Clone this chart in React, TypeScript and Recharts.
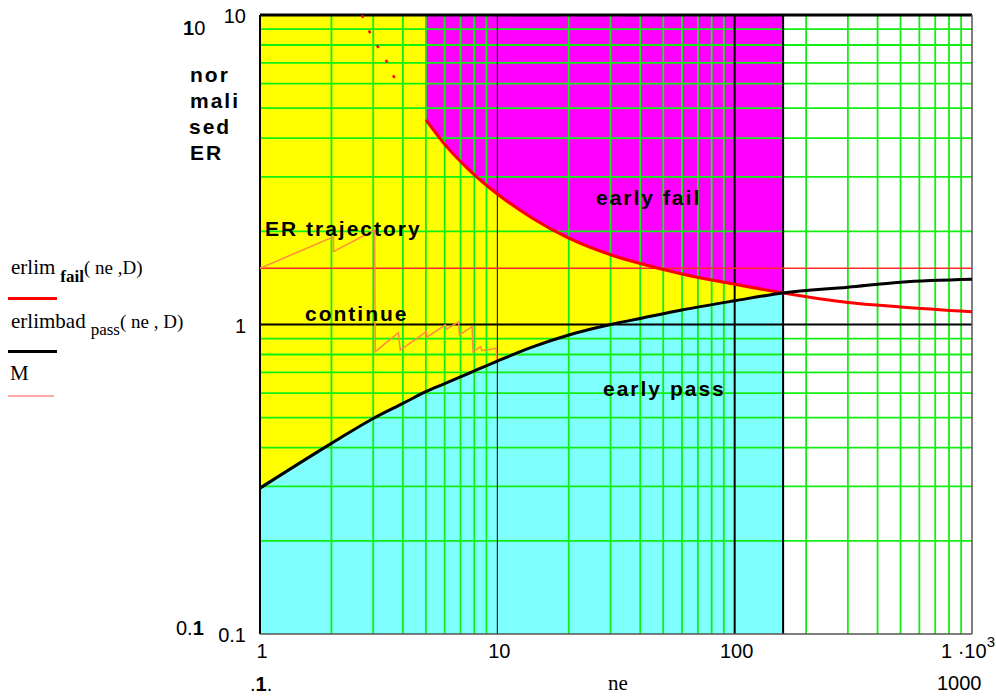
import {
  Area,
  ComposedChart,
  Line,
  ReferenceLine,
  XAxis,
  YAxis,
} from "recharts";

const W = 996;
const H = 696;

// ne where the shaded decision regions stop
const regionEnd = 160;

// erlimbad_pass(ne, D)
const passNe = [1, 2, 3, 4, 5, 6, 7.5, 10, 14, 20, 30, 40, 60, 100, 160, 300, 500, 1000];
const passVals = [0.296, 0.413, 0.497, 0.556, 0.607, 0.644, 0.693, 0.762, 0.845, 0.925, 1.0, 1.046, 1.114, 1.193, 1.265, 1.32, 1.37, 1.4];

// erlim_fail(ne, D)
const failNe = [5, 6, 7.5, 10, 14, 20, 30, 40, 60, 100, 160, 300, 500, 1000];
const failVals = [4.58, 3.82, 3.19, 2.64, 2.21, 1.9, 1.68, 1.574, 1.456, 1.349, 1.265, 1.178, 1.14, 1.1];

// bits of erlim_fail showing through for small ne
const failStrayNe = [2.69, 2.86, 3.0, 3.09, 3.43, 3.82];
const failStrayVals = [10, 9.01, 8.3, 8.05, 7.05, 5.9];

// M
const mNe = [1, 1000];
const mVals = [1.52, 1.52];

// ER trajectory
const trajNe = [1, 2.04, 2.04, 3.04, 3.06, 3.83, 3.9, 5.02, 5.05, 6.03, 6.09, 6.87, 6.92, 7.83, 7.9, 8.5, 8.6, 9.9, 9.95];
const trajVals = [1.52, 1.92, 1.72, 2.02, 0.817, 0.941, 0.827, 0.948, 0.91, 0.996, 0.965, 1.02, 0.925, 0.984, 0.817, 0.848, 0.823, 0.838, 0.77];

const xTicks = [1, 10, 100, 1000];
const yTicks = [0.1, 1, 10];
const xGrid = [2, 3, 4, 5, 6, 7, 8, 9, 20, 30, 40, 50, 60, 70, 80, 90, 200, 300, 400, 500, 600, 700, 800, 900];
const yGrid = [0.2, 0.3, 0.4, 0.5, 0.6, 0.7, 0.8, 0.9, 2, 3, 4, 5, 6, 7, 8, 9];

const yMin = 0.1;
const yMax = 10;

const toRows = (xs: number[], ys: number[]) => xs.map((ne, i) => ({ ne, y: ys[i] }));

const failAt = (ne: number) => {
  const i = failNe.indexOf(ne);
  return i >= 0 ? failVals[i] : null;
};

// continue / early fail / early pass bands
const regionRows = passNe
  .map((ne, i) => ({ ne, pass: passVals[i] }))
  .filter((r) => r.ne <= regionEnd)
  .map(({ ne, pass }) => {
    const fail = failAt(ne);
    return {
      ne,
      pass: [yMin, pass],
      // continue region before erlim_fail starts
      cont: ne <= failNe[0] ? [pass, yMax] : null,
      // continue region between the two limits
      band: fail == null ? null : [pass, fail],
      fail: fail == null ? null : [fail, yMax],
    };
  });

const tickFont = "'Liberation Sans', Arial, sans-serif";
const serif = "'Liberation Serif', 'Times New Roman', serif";
const gridGreen = "#10f010";

const XTick = ({ x, y, payload }: any) => {
  if (payload.value === 1000) {
    return (
      <text x={x - 4} y={y + 24} textAnchor="middle" fontFamily={tickFont} fontSize={20} fill="#000">
        1 ·10
        <tspan dy={-11} fontSize={15}>3</tspan>
      </text>
    );
  }
  return (
    <text x={x + 2} y={y + 24} textAnchor="middle" fontFamily={tickFont} fontSize={20} fill="#000">
      {payload.value}
    </text>
  );
};

const YTick = ({ x, y, payload }: any) => (
  <text x={x - 14} y={y + 8} textAnchor="end" fontFamily={tickFont} fontSize={20} fill="#000">
    {payload.value}
  </text>
);

const labelStyle = {
  fontFamily: tickFont,
  fontWeight: 700,
  fontSize: 21,
  letterSpacing: 2,
};

const App = () => {
  return (
    <div style={{ position: "absolute", left: 0, top: 0, width: W, height: H, background: "#fff" }}>
      <ComposedChart
        width={W}
        height={H}
        data={regionRows}
        margin={{ top: 15, right: 24, bottom: 32, left: 0 }}
      >
        <XAxis
          dataKey="ne"
          type="number"
          scale="log"
          domain={[1, 1000]}
          ticks={xTicks}
          allowDataOverflow
          height={30}
          axisLine={false}
          tickLine={false}
          tickSize={0}
          tickMargin={0}
          tick={<XTick />}
        />
        <YAxis
          type="number"
          scale="log"
          domain={[yMin, yMax]}
          ticks={yTicks}
          allowDataOverflow
          width={260}
          axisLine={false}
          tickLine={false}
          tickSize={0}
          tickMargin={0}
          tick={<YTick />}
        />

        <Area dataKey="pass" type="monotoneX" stroke="none" fill="#80ffff" fillOpacity={1} isAnimationActive={false} dot={false} activeDot={false} />
        <Area dataKey="cont" type="monotoneX" stroke="none" fill="#ffff00" fillOpacity={1} isAnimationActive={false} dot={false} activeDot={false} />
        <Area dataKey="band" type="monotoneX" stroke="none" fill="#ffff00" fillOpacity={1} isAnimationActive={false} dot={false} activeDot={false} />
        <Area dataKey="fail" type="monotoneX" stroke="none" fill="#ff00ff" fillOpacity={1} isAnimationActive={false} dot={false} activeDot={false} />

        {xGrid.map((v) => (
          <ReferenceLine key={`gx${v}`} x={v} stroke={gridGreen} strokeWidth={1.8} />
        ))}
        {yGrid.map((v) => (
          <ReferenceLine key={`gy${v}`} y={v} stroke={gridGreen} strokeWidth={1.8} />
        ))}

        <ReferenceLine x={10} stroke="#000" strokeWidth={1} />
        <ReferenceLine x={100} stroke="#000" strokeWidth={2} />
        <ReferenceLine x={regionEnd} stroke="#000" strokeWidth={2} />
        <ReferenceLine y={1} stroke="#000" strokeWidth={2} />
        <ReferenceLine x={1} stroke="#000" strokeWidth={2} />
        <ReferenceLine y={yMax} stroke="#000" strokeWidth={3} />
        <ReferenceLine x={1000} stroke="#555" strokeWidth={1.5} />
        <ReferenceLine y={yMin} stroke="#555" strokeWidth={1.5} />

        <Line data={toRows(mNe, mVals)} dataKey="y" type="linear" stroke="#ff2a2a" strokeWidth={1.5} dot={false} activeDot={false} isAnimationActive={false} />
        <Line data={toRows(trajNe, trajVals)} dataKey="y" type="linear" stroke="#ff8c40" strokeWidth={1.5} dot={false} activeDot={false} isAnimationActive={false} />
        <Line data={toRows(failStrayNe, failStrayVals)} dataKey="y" type="linear" stroke="#ff0000" strokeWidth={2.5} strokeDasharray="3 14" dot={false} activeDot={false} isAnimationActive={false} />
        <Line data={toRows(failNe, failVals)} dataKey="y" type="monotoneX" stroke="#ff0000" strokeWidth={3} dot={false} activeDot={false} isAnimationActive={false} />
        <Line data={toRows(passNe, passVals)} dataKey="y" type="monotoneX" stroke="#000" strokeWidth={3} dot={false} activeDot={false} isAnimationActive={false} />
      </ComposedChart>

      <svg
        width={W}
        height={H}
        style={{ position: "absolute", left: 0, top: 0, pointerEvents: "none" }}
      >
        {/* axis title */}
        <g style={labelStyle} fill="#000">
          <text x={190} y={82}>nor</text>
          <text x={190} y={108}>mali</text>
          <text x={189} y={134}>sed</text>
          <text x={190} y={160}>ER</text>
        </g>

        {/* region labels */}
        <g style={labelStyle} fill="#000">
          <text x={596} y={205}>early fail</text>
          <text x={265} y={236}>ER trajectory</text>
          <text x={305} y={321}>continue</text>
          <text x={603} y={396}>early pass</text>
        </g>

        {/* axis limit labels */}
        <text x={183} y={35} fontFamily={tickFont} fontSize={20} fill="#000">
          <tspan fontWeight={700}>1</tspan>0
        </text>
        <text x={176} y={635} fontFamily={tickFont} fontSize={20} fill="#000">
          0.<tspan fontWeight={700}>1</tspan>
        </text>
        <text x={250} y={691} fontFamily={tickFont} fontSize={20} fill="#000">
          .<tspan fontWeight={700}>1</tspan>.
        </text>
        <text x={608} y={690} fontFamily={serif} fontSize={21} fill="#000">ne</text>
        <text x={937} y={690} fontFamily={tickFont} fontSize={20} fill="#000">1000</text>

        {/* legend */}
        <text x={11} y={274} fontFamily={serif} fontSize={21} fill="#000">
          erlim
          <tspan dx={5} dy={8} fontSize={17} fontWeight={700}>fail</tspan>
          <tspan dy={-8} fontSize={19}>( ne ,D)</tspan>
        </text>
        <line x1={8} x2={57} y1={298.5} y2={298.5} stroke="#ff0000" strokeWidth={3} />
        <text x={11} y={328} fontFamily={serif} fontSize={21} fill="#000">
          erlimbad
          <tspan dx={5} dy={7} fontSize={17}>pass</tspan>
          <tspan dy={-7} fontSize={19}>( ne , D)</tspan>
        </text>
        <line x1={8} x2={57} y1={351.5} y2={351.5} stroke="#000" strokeWidth={3} />
        <text x={10} y={380} fontFamily={serif} fontSize={21} fill="#000">M</text>
        <line x1={8} x2={54} y1={396} y2={396} stroke="#ff5050" strokeWidth={1.2} />
      </svg>
    </div>
  );
};

export default App;
